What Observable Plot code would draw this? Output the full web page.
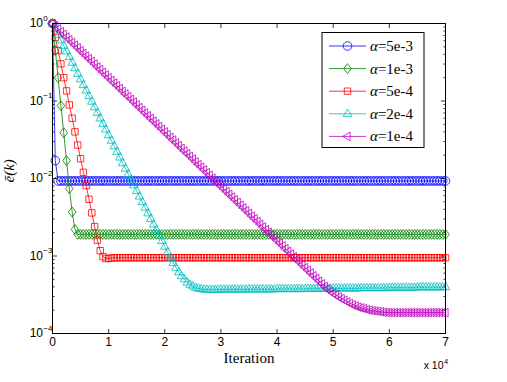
<!DOCTYPE html>
<html><head><meta charset="utf-8">
<script src="https://cdn.jsdelivr.net/npm/d3@7"></script>
<script src="https://cdn.jsdelivr.net/npm/@observablehq/plot@0.6"></script>
<style>body{margin:0;background:#fff}</style>
</head><body><div id="chart"></div>
<script>
const iterStep = 500;
const seriesNames = ["5e-3","1e-3","5e-4","2e-4","1e-4"];
const colors = ["#0000ff","#008000","#ff0000","#00bfbf","#bf00bf"];
const xTicks = [0,10000,20000,30000,40000,50000,60000,70000];
const xTickLabels = ["0","1","2","3","4","5","6","7"];
const yTicks = [1e-4,1e-3,1e-2,1e-1,1];
const yExponents = ["\u22124","\u22123","\u22122","\u22121","0"];

const blue = [
1,0.017,0.0093,0.0093,0.0093,0.0093,0.0093,0.0093,0.0093,0.0093,
0.0093,0.0093,0.0093,0.0093,0.0093,0.0093,0.0093,0.0093,0.0093,0.0093,
0.0093,0.0093,0.0093,0.0093,0.0093,0.0093,0.0093,0.0093,0.0093,0.0093,
0.0093,0.0093,0.0093,0.0093,0.0093,0.0093,0.0093,0.0093,0.0093,0.0093,
0.0093,0.0093,0.0093,0.0093,0.0093,0.0093,0.0093,0.0093,0.0093,0.0093,
0.0093,0.0093,0.0093,0.0093,0.0093,0.0093,0.0093,0.0093,0.0093,0.0093,
0.0093,0.0093,0.0093,0.0093,0.0093,0.0093,0.0093,0.0093,0.0093,0.0093,
0.0093,0.0093,0.0093,0.0093,0.0093,0.0093,0.0093,0.0093,0.0093,0.0093,
0.0093,0.0093,0.0093,0.0093,0.0093,0.0093,0.0093,0.0093,0.0093,0.0093,
0.0093,0.0093,0.0093,0.0093,0.0093,0.0093,0.0093,0.0093,0.0093,0.0093,
0.0093,0.0093,0.0093,0.0093,0.0093,0.0093,0.0093,0.0093,0.0093,0.0093,
0.0093,0.0093,0.0093,0.0093,0.0093,0.0093,0.0093,0.0093,0.0093,0.0093,
0.0093,0.0093,0.0093,0.0093,0.0093,0.0093,0.0093,0.0093,0.0093,0.0093,
0.0093,0.0093,0.0093,0.0093,0.0093,0.0093,0.0093,0.0093,0.0093,0.0093,
0.0093];

const green = [
1,0.45,0.20,0.087,0.039,0.017,0.0074,0.0037,0.0022,0.0019,
0.0019,0.0019,0.0019,0.0019,0.0019,0.0019,0.0019,0.0019,0.0019,0.0019,
0.0019,0.0019,0.0019,0.0019,0.0019,0.0019,0.0019,0.0019,0.0019,0.0019,
0.0019,0.0019,0.0019,0.0019,0.0019,0.0019,0.0019,0.0019,0.0019,0.0019,
0.0019,0.0019,0.0019,0.0019,0.0019,0.0019,0.0019,0.0019,0.0019,0.0019,
0.0019,0.0019,0.0019,0.0019,0.0019,0.0019,0.0019,0.0019,0.0019,0.0019,
0.0019,0.0019,0.0019,0.0019,0.0019,0.0019,0.0019,0.0019,0.0019,0.0019,
0.0019,0.0019,0.0019,0.0019,0.0019,0.0019,0.0019,0.0019,0.0019,0.0019,
0.0019,0.0019,0.0019,0.0019,0.0019,0.0019,0.0019,0.0019,0.0019,0.0019,
0.0019,0.0019,0.0019,0.0019,0.0019,0.0019,0.0019,0.0019,0.0019,0.0019,
0.0019,0.0019,0.0019,0.0019,0.0019,0.0019,0.0019,0.0019,0.0019,0.0019,
0.0019,0.0019,0.0019,0.0019,0.0019,0.0019,0.0019,0.0019,0.0019,0.0019,
0.0019,0.0019,0.0019,0.0019,0.0019,0.0019,0.0019,0.0019,0.0019,0.0019,
0.0019,0.0019,0.0019,0.0019,0.0019,0.0019,0.0019,0.0019,0.0019,0.0019,
0.0019];

const red = [
1,0.66,0.447,0.302,0.2,0.135,0.089,0.060,0.040,0.027,
0.018,0.012,0.0081,0.0054,0.0036,0.0024,0.0016,0.00117,0.00098,0.00093,
0.00093,0.00094,0.00095,0.00095,0.00095,0.00095,0.00095,0.00095,0.00095,0.00095,
0.00095,0.00095,0.00095,0.00095,0.00095,0.00095,0.00095,0.00095,0.00095,0.00095,
0.00095,0.00095,0.00095,0.00095,0.00095,0.00095,0.00095,0.00095,0.00095,0.00095,
0.00095,0.00095,0.00095,0.00095,0.00095,0.00095,0.00095,0.00095,0.00095,0.00095,
0.00095,0.00095,0.00095,0.00095,0.00095,0.00095,0.00095,0.00095,0.00095,0.00095,
0.00095,0.00095,0.00095,0.00095,0.00095,0.00095,0.00095,0.00095,0.00095,0.00095,
0.00095,0.00095,0.00095,0.00095,0.00095,0.00095,0.00095,0.00095,0.00095,0.00095,
0.00095,0.00095,0.00095,0.00095,0.00095,0.00095,0.00095,0.00095,0.00095,0.00095,
0.00095,0.00095,0.00095,0.00095,0.00095,0.00095,0.00095,0.00095,0.00095,0.00095,
0.00095,0.00095,0.00095,0.00095,0.00095,0.00095,0.00095,0.00095,0.00095,0.00095,
0.00095,0.00095,0.00095,0.00095,0.00095,0.00095,0.00095,0.00095,0.00095,0.00095,
0.00095,0.00095,0.00095,0.00095,0.00095,0.00095,0.00095,0.00095,0.00095,0.00095,
0.00095];

const cyan = [
1,0.847,0.718,0.608,0.515,0.437,0.370,0.313,0.265,0.225,
0.191,0.161,0.137,0.116,0.0982,0.0832,0.0705,0.0597,0.0506,0.0429,
0.0363,0.0308,0.0261,0.0221,0.0187,0.0158,0.0134,0.0114,0.00964,0.00817,
0.00692,0.00586,0.00497,0.00421,0.00356,0.00302,0.00256,0.00217,0.00184,0.00156,
0.00132,0.00112,0.000955,0.000813,0.000708,0.000617,0.000550,0.000501,0.000457,0.000427,
0.000407,0.000389,0.000380,0.000374,0.000370,0.000368,0.000367,0.000367,0.000367,0.000367,
0.00037,0.00037,0.00037,0.00037,0.00037,0.00037,0.00037,0.00037,0.00037,0.00037,
0.000372,0.000372,0.000372,0.000372,0.000372,0.000372,0.000372,0.000372,0.000372,0.000372,
0.000375,0.000375,0.000375,0.000375,0.000375,0.000375,0.000375,0.000375,0.000375,0.000375,
0.000378,0.000378,0.000378,0.000378,0.000378,0.000378,0.000378,0.000378,0.000378,0.000378,
0.000382,0.000382,0.000382,0.000382,0.000382,0.000382,0.000382,0.000382,0.000382,0.000382,
0.000386,0.000386,0.000386,0.000386,0.000386,0.000386,0.000386,0.000386,0.000386,0.000386,
0.00039,0.00039,0.00039,0.00039,0.00039,0.00039,0.00039,0.00039,0.00039,0.00039,
0.000395,0.000395,0.000395,0.000395,0.000395,0.000395,0.000395,0.000395,0.000395,0.000395,
0.000398];

const magenta = [
1,0.923,0.851,0.785,0.724,0.668,0.617,0.569,0.525,0.484,
0.447,0.412,0.380,0.351,0.324,0.299,0.275,0.254,0.234,0.216,
0.200,0.184,0.170,0.157,0.145,0.133,0.123,0.114,0.105,0.0968,
0.0891,0.0822,0.0759,0.0700,0.0646,0.0596,0.0550,0.0507,0.0468,0.0432,
0.0398,0.0368,0.0339,0.0313,0.0288,0.0266,0.0245,0.0226,0.0209,0.0193,
0.0178,0.0164,0.0151,0.0140,0.0129,0.0119,0.0110,0.0101,0.00933,0.00861,
0.00794,0.00733,0.00676,0.00624,0.00575,0.00531,0.00490,0.00452,0.00417,0.00385,
0.00355,0.00327,0.00302,0.00279,0.00257,0.00237,0.00219,0.00202,0.00186,0.00172,
0.00158,0.00146,0.00135,0.00124,0.00115,0.00106,0.000977,0.000902,0.000832,0.000767,
0.000708,0.000653,0.000603,0.000556,0.000513,0.000473,0.000437,0.000404,0.000376,0.000351,
0.000331,0.000313,0.000295,0.000282,0.000269,0.000257,0.000245,0.000234,0.000226,0.000219,
0.000214,0.000209,0.000204,0.000200,0.000197,0.000195,0.000193,0.000191,0.000188,0.000187,
0.000186,0.000186,0.000186,0.000186,0.000186,0.000186,0.000186,0.000186,0.000186,0.000186,
0.000186,0.000186,0.000186,0.000186,0.000186,0.000186,0.000186,0.000186,0.000186,0.000186,
0.000186];

const seriesValues = [blue, green, red, cyan, magenta];

// marker shapes (MATLAB style)
const symbols = [
  {draw(c){ c.moveTo(4.3,0); c.arc(0,0,4.3,0,2*Math.PI); c.closePath(); }},
  {draw(c){ c.moveTo(0,-5); c.lineTo(3.8,0); c.lineTo(0,5); c.lineTo(-3.8,0); c.closePath(); }},
  {draw(c){ c.moveTo(-3.2,-3.2); c.lineTo(3.2,-3.2); c.lineTo(3.2,3.2); c.lineTo(-3.2,3.2); c.closePath(); }},
  {draw(c){ c.moveTo(0,-4.8); c.lineTo(4.3,2.6); c.lineTo(-4.3,2.6); c.closePath(); }},
  {draw(c){ c.moveTo(-4.8,0); c.lineTo(2.6,-4.3); c.lineTo(2.6,4.3); c.closePath(); }}
];

const rows = seriesValues.map(vals => vals.map((v, i) => ({x: i * iterStep, y: v})));

const minorTicks = [];
for (const d of [1e-4,1e-3,1e-2,1e-1]) for (let m = 2; m <= 9; m++) minorTicks.push(d * m);

const marks = [];
rows.forEach((data, s) => {
  marks.push(Plot.line(data, {x: "x", y: "y", stroke: colors[s], strokeWidth: 0.8}));
  marks.push(Plot.dot(data, {x: "x", y: "y", symbol: symbols[s], stroke: colors[s], fill: "none", strokeWidth: 0.8}));
});

const tickStyle = {stroke: "black", strokeWidth: 0.8, label: null, tickFormat: () => ""};

const plot = Plot.plot({
  width: 507, height: 382,
  marginLeft: 52, marginRight: 62, marginTop: 23, marginBottom: 49,
  style: {fontFamily: "'Liberation Sans', Arial, sans-serif", background: "white"},
  x: {domain: [0, 70000]},
  y: {type: "log", domain: [1e-4, 1]},
  marks: [
    ...marks,
    Plot.frame({stroke: "black", strokeWidth: 1}),
    Plot.axisX(xTicks, {anchor: "bottom", tickSize: -4, ...tickStyle}),
    Plot.axisX(xTicks, {anchor: "top", tickSize: -4, ...tickStyle}),
    Plot.axisY(yTicks, {anchor: "left", tickSize: -5, ...tickStyle}),
    Plot.axisY(yTicks, {anchor: "right", tickSize: -5, ...tickStyle}),
    Plot.axisY(minorTicks, {anchor: "left", tickSize: -2.5, ...tickStyle}),
    Plot.axisY(minorTicks, {anchor: "right", tickSize: -2.5, ...tickStyle}),
    Plot.text(xTicks, {x: d => d, text: (d, i) => xTickLabels[i], frameAnchor: "bottom", dy: 12, fontSize: 12, fill: "black"}),
    Plot.text(yTicks, {y: d => d, text: () => "10", frameAnchor: "left", dx: -9.5, textAnchor: "end", fontSize: 12, fill: "black"}),
    Plot.text(yTicks, {y: d => d, text: (d, i) => yExponents[i], frameAnchor: "left", dx: -9.2, dy: -5.5, textAnchor: "start", fontSize: 8, fill: "black"}),
    Plot.text(["Iteration"], {frameAnchor: "bottom", dy: 29, fontSize: 15, fontFamily: "'Liberation Serif', serif", fill: "black"}),
    Plot.text(["x 10"], {frameAnchor: "bottom", x: 70000, dx: -2, dy: 35, textAnchor: "end", fontSize: 10.5, fill: "black"}),
    Plot.text(["4"], {frameAnchor: "bottom", x: 70000, dx: -1.5, dy: 30, textAnchor: "start", fontSize: 7.5, fill: "black"}),
    Plot.text(["\u0113(k)"], {frameAnchor: "left", dx: -43, dy: 4, rotate: -90, fontSize: 15, fontStyle: "italic", fontFamily: "'Liberation Serif', serif", fill: "black"})
  ]
});

// legend box (MATLAB style, inside the axes)
const svg = d3.select(plot);
const lg = svg.append("g").attr("class", "legend").attr("text-anchor", "start");
lg.append("rect").attr("x", 322).attr("y", 32.5).attr("width", 102).attr("height", 115)
  .attr("fill", "white").attr("stroke", "black").attr("stroke-width", 1);
seriesNames.forEach((name, s) => {
  const yy = 46 + s * 22.6;
  lg.append("line").attr("x1", 329).attr("x2", 366).attr("y1", yy).attr("y2", yy)
    .attr("stroke", colors[s]).attr("stroke-width", 0.8);
  lg.append("path").attr("d", d3.symbol(symbols[s])()).attr("transform", `translate(347.5,${yy})`)
    .attr("fill", "none").attr("stroke", colors[s]).attr("stroke-width", 0.8);
  const t = lg.append("text").attr("x", 370).attr("y", yy + 5).attr("text-anchor", "start")
    .attr("font-family", "'Liberation Serif', serif").attr("font-size", 15).attr("fill", "black");
  t.append("tspan").attr("font-style", "italic").text("\u03b1");
  t.append("tspan").text("=" + name);
});

document.getElementById("chart").appendChild(plot);
</script>
</body></html>
